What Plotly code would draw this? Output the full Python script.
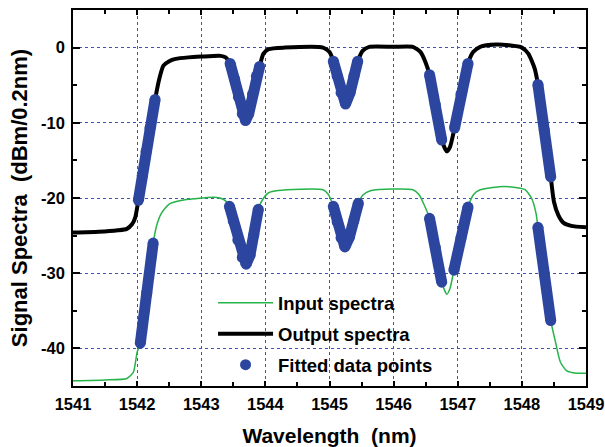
import plotly.graph_objects as go

# ---- data ----
input_x = [1541.0, 1541.5, 1541.84, 1541.94, 1542.0, 1542.05, 1542.25, 1542.31, 1542.38, 1542.5, 1542.7, 1542.9,
           1543.2, 1543.35, 1543.44, 1543.57, 1543.70, 1543.82, 1543.89, 1543.95, 1544.05, 1544.2, 1544.9, 1544.98,
           1545.06, 1545.24, 1545.45, 1545.52, 1545.65, 1546.0, 1546.3, 1546.4, 1546.47, 1546.56, 1546.75, 1546.83,
           1546.88, 1546.94, 1547.16, 1547.25, 1547.35, 1547.65, 1547.9, 1548.05, 1548.15, 1548.22, 1548.25, 1548.45,
           1548.52, 1548.6, 1548.7, 1548.85, 1549.0]
input_y = [-44.3, -44.2, -44.0, -43.2, -40.5, -39.3, -26.0, -23.5, -22.0, -20.8, -20.3, -20.1,
           -19.9, -20.2, -21.0, -25.6, -28.8, -24.9, -21.5, -20.3, -19.3, -19.0, -18.9, -19.5,
           -21.1, -26.5, -20.7, -19.6, -19.0, -18.8, -18.9, -19.6, -20.8, -22.7, -31.2, -32.8,
           -32.0, -29.6, -21.2, -19.5, -18.9, -18.5, -18.6, -18.9, -20.0, -22.0, -23.9, -36.3,
           -39.0, -41.8, -43.0, -43.3, -43.3]

output_x = [1541.0, 1541.4, 1541.7, 1541.84, 1541.92, 1541.97, 1542.02, 1542.28, 1542.35, 1542.41, 1542.5, 1542.6,
            1542.8, 1543.0, 1543.3, 1543.38, 1543.45, 1543.58, 1543.69, 1543.8, 1543.91, 1543.97, 1544.05, 1544.3,
            1544.9, 1545.0, 1545.06, 1545.25, 1545.44, 1545.52, 1545.62, 1546.0, 1546.3, 1546.42, 1546.5, 1546.56,
            1546.75, 1546.83, 1546.88, 1546.95, 1547.16, 1547.24, 1547.35, 1547.6, 1547.8, 1548.0, 1548.1, 1548.2,
            1548.25, 1548.45, 1548.5, 1548.57, 1548.65, 1548.77, 1549.0]
output_y = [-24.6, -24.5, -24.3, -24.1, -23.5, -22.6, -20.3, -6.9, -4.0, -2.4, -1.8, -1.5,
            -1.3, -1.2, -1.1, -1.3, -2.1, -6.6, -9.8, -6.2, -2.5, -0.8, -0.2, 0.0,
            0.0, -0.6, -1.8, -7.6, -1.8, -0.4, 0.1, 0.1, 0.1, -0.6, -2.0, -3.6,
            -12.3, -13.8, -13.2, -10.7, -2.1, -0.6, 0.1, 0.4, 0.3, 0.0, -0.8, -2.8,
            -4.9, -17.2, -20.5, -22.3, -23.3, -23.7, -23.9]

# fitted data points (segments separated by None)
fit_x = [1542.02, 1542.08, 1542.14, 1542.20, 1542.28, None,
         1543.45, 1543.52, 1543.58, 1543.64, 1543.69, 1543.74, 1543.80, 1543.86, 1543.91, None,
         1545.06, 1545.12, 1545.18, 1545.25, 1545.32, 1545.38, 1545.44, None,
         1546.56, 1546.65, 1546.75, None,
         1546.95, 1547.05, 1547.16, None,
         1548.25, 1548.35, 1548.45, None,
         1542.05, 1542.15, 1542.25, None,
         1543.44, 1543.50, 1543.57, 1543.64, 1543.70, 1543.76, 1543.82, 1543.89, None,
         1545.06, 1545.12, 1545.18, 1545.24, 1545.31, 1545.38, 1545.45, None,
         1546.56, 1546.65, 1546.75, None,
         1546.94, 1547.05, 1547.16, None,
         1548.25, 1548.35, 1548.45]
fit_y = [-20.3, -17.0, -13.8, -10.7, -6.9, None,
         -2.1, -4.2, -6.6, -8.8, -9.7, -8.8, -6.2, -3.8, -2.5, None,
         -1.8, -3.8, -6.0, -7.5, -6.0, -3.8, -1.8, None,
         -3.6, -7.6, -12.3, None,
         -10.7, -6.2, -2.1, None,
         -4.9, -11.0, -17.2, None,
         -39.3, -32.6, -26.0, None,
         -21.1, -23.1, -25.6, -27.9, -28.8, -27.6, -24.9, -21.5, None,
         -21.1, -23.2, -25.3, -26.5, -25.2, -23.0, -20.7, None,
         -22.7, -26.6, -31.2, None,
         -29.6, -25.3, -21.2, None,
         -23.9, -30.1, -36.3]

legend_names = ["Input spectra", "Output spectra", "Fitted data points"]
x_ticks = [1541, 1542, 1543, 1544, 1545, 1546, 1547, 1548, 1549]
y_ticks = [-40, -30, -20, -10, 0]

GREEN = "#26b34a"
BLUE = "#2c46a0"
GRID = "#3f55ad"
FONT = "Liberation Sans"

fig = go.Figure()
fig.add_trace(go.Scatter(x=input_x, y=input_y, mode="lines", name=legend_names[0],
                         line=dict(color=GREEN, width=1.5, shape="spline", smoothing=0.6),
                         legendgroup="a"))
fig.add_trace(go.Scatter(x=output_x, y=output_y, mode="lines", name=legend_names[1],
                         line=dict(color="black", width=4, shape="spline", smoothing=0.6),
                         legendgroup="b"))
fig.add_trace(go.Scatter(x=fit_x, y=fit_y, mode="lines+markers", showlegend=False,
                         line=dict(color=BLUE, width=11), marker=dict(color=BLUE, size=11),
                         connectgaps=False))
fig.add_trace(go.Scatter(x=[None], y=[None], mode="markers", name=legend_names[2],
                         marker=dict(color=BLUE, size=11), legendgroup="c"))

tickfont = dict(family=FONT, size=16.5, color="black", weight="bold")

fig.update_xaxes(range=[1541, 1549], tickvals=x_ticks, ticktext=[str(v) for v in x_ticks],
                 ticks="inside", ticklen=5, tickwidth=1.5, tickcolor="black", ticklabelstandoff=2,
                 minor=dict(dtick=0.5, ticks="inside", ticklen=4, tickwidth=1.5, tickcolor="black", showgrid=False),
                 showline=True, linecolor="black", linewidth=1.5, mirror="ticks",
                 showgrid=True, gridcolor=GRID, gridwidth=1, griddash="dot",
                 zeroline=False, tickfont=tickfont, automargin=False,
                 title=dict(text="Wavelength\u00a0\u00a0(nm)",
                            font=dict(family=FONT, size=21, color="black", weight="bold"), standoff=20))
fig.update_yaxes(range=[-45, 5], tickvals=y_ticks, ticktext=[str(v) for v in y_ticks],
                 ticks="inside", ticklen=7, tickwidth=1.5, tickcolor="black", ticklabelstandoff=3,
                 minor=dict(dtick=5, tick0=0, ticks="inside", ticklen=4, tickwidth=1.5, tickcolor="black", showgrid=False),
                 showline=True, linecolor="black", linewidth=1.5, mirror="ticks",
                 showgrid=True, gridcolor=GRID, gridwidth=1, griddash="dot",
                 zeroline=False, tickfont=tickfont, automargin=False,
                 title=dict(text="Signal Spectra\u00a0\u00a0(dBm/0.2nm)",
                            font=dict(family=FONT, size=22, color="black", weight="bold"), standoff=7))

fig.update_layout(width=605, height=447, margin=dict(l=73, r=19, t=10, b=61, autoexpand=False),
                  plot_bgcolor="white", paper_bgcolor="white",
                  legend=dict(x=0.273, y=0.271, xanchor="left", yanchor="top",
                              bgcolor="rgba(0,0,0,0)", borderwidth=0,
                              font=dict(family=FONT, size=18.5, color="black", weight="bold"),
                              tracegroupgap=4, itemwidth=55),
                  showlegend=True)

fig.write_html("out.html")
